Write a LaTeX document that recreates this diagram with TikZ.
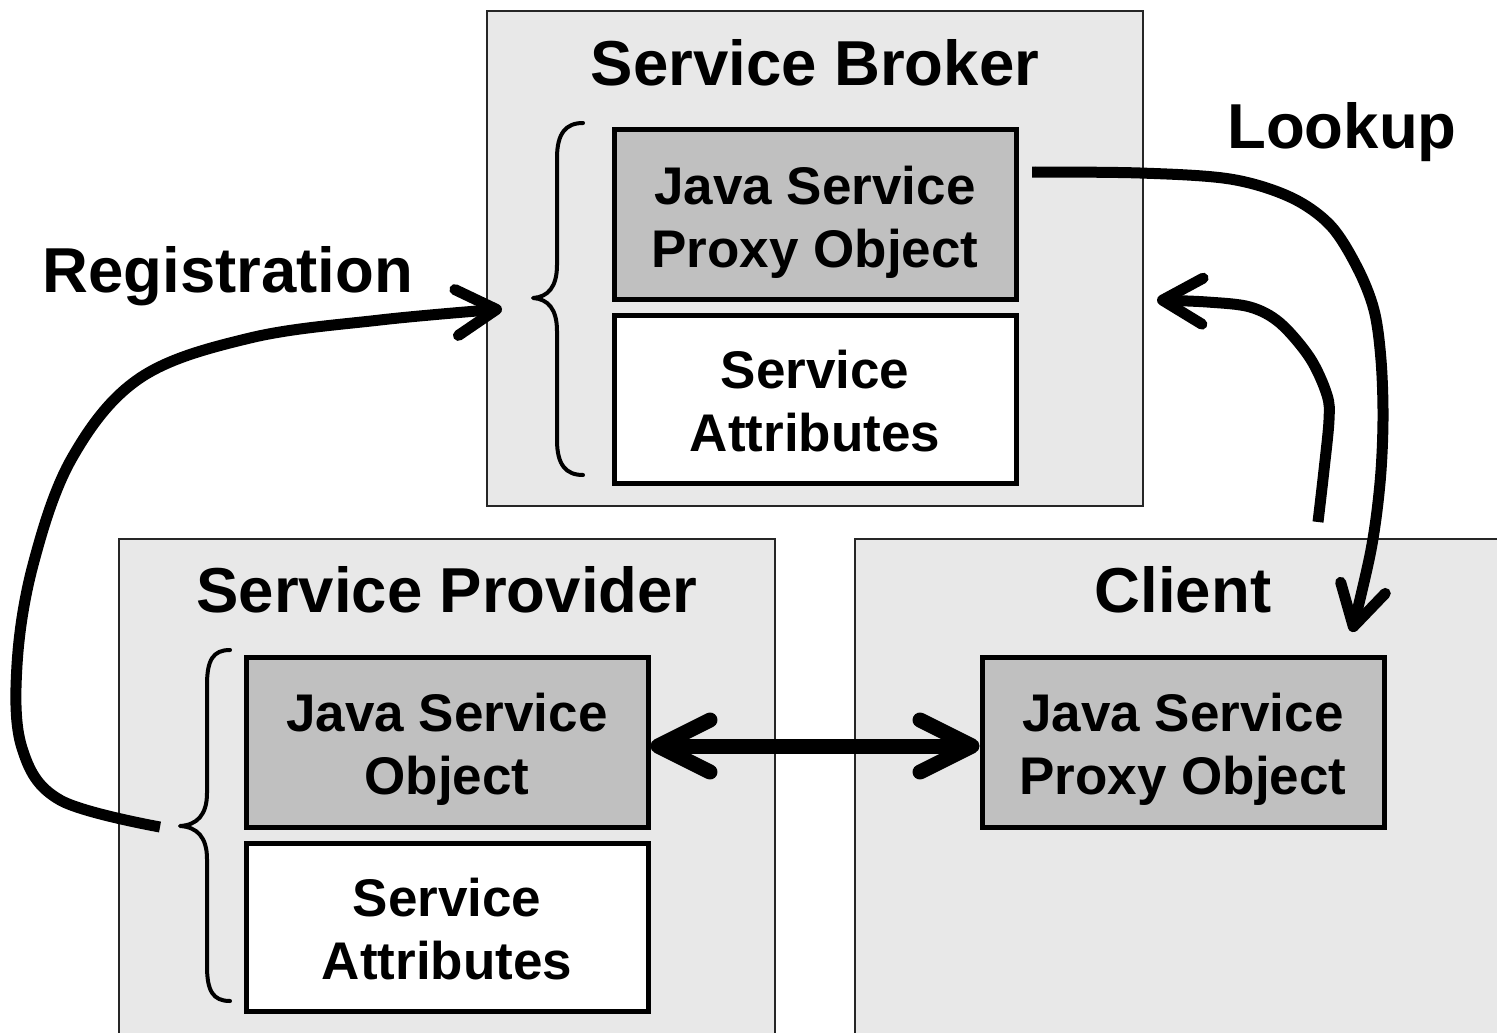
\documentclass[tikz,border=0pt]{standalone}
\usepackage{fontspec}
\setmainfont{Liberation Sans}
\usetikzlibrary{arrows.meta}
\definecolor{panel}{HTML}{E8E8E8}
\definecolor{objgray}{HTML}{C0C0C0}
\definecolor{panelline}{HTML}{262626}
\begin{document}
\begin{tikzpicture}[x=1pt,y=-1pt,
  panelbox/.style={draw=panelline,line width=2pt,fill=panel,rectangle,inner sep=0pt},
  objbox/.style={draw=black,line width=5pt,rectangle,inner sep=0pt,minimum width=402pt,
    font=\fontsize{53}{63}\selectfont\bfseries,align=center,text height=105pt,text depth=0pt},
  grayobj/.style={objbox,fill=objgray,minimum height=170pt},
  whiteobj/.style={objbox,fill=white,minimum height=168pt},
  title/.style={font=\fontsize{63.5}{70}\selectfont\bfseries,anchor=base,inner sep=0pt},
  bracestyle/.style={line width=4pt,line cap=round,line join=round},
  flow/.style={line width=11pt,-{Straight Barb[length=40pt,width=46pt,round]}},
  dbl/.style={line width=15pt,{Straight Barb[length=52pt,width=52pt,round]}-{Straight Barb[length=52pt,width=52pt,round]}}
  ]
\useasboundingbox (0,0) rectangle (1497,1033);

% panels
\node[panelbox,minimum width=656pt,minimum height=495pt] (broker) at (815,258.5) {};
\node[panelbox,minimum width=656pt,minimum height=506pt] (provider) at (447,792) {};
\node[panelbox,minimum width=655pt,minimum height=506pt] (client) at (1182.5,792) {};

% titles
\node[title] (tbroker) at (815,85) {Service Broker};
\node[title] (tprovider) at (447,612) {Service Provider};
\node[title] (tclient) at (1183,612) {Client};
\node[title] (tlookup) at (1342,148) {Lookup};
\node[title] (treg) at (228,292) {Registration};

% objects
\node[grayobj] (bgray) at (815,214.5) {Java Service\\Proxy Object};
\node[whiteobj] (bwhite) at (815,399) {Service\\Attributes};
\node[grayobj] (pgray) at (447,742) {Java Service\\Object};
\node[whiteobj] (pwhite) at (447,927) {Service\\Attributes};
\node[grayobj] (cgray) at (1183,742) {Java Service\\Proxy Object};

% braces
\draw[bracestyle] (583,123) .. controls (566,123) and (557,133) .. (557,158) -- (557,265)
  .. controls (557,287) and (548,297) .. (533,298)
  .. controls (548,299) and (557,309) .. (557,331) -- (557,440)
  .. controls (557,465) and (566,475) .. (583,475);
\draw[bracestyle] (230,650) .. controls (213,650) and (207,660) .. (207,685) -- (207,793)
  .. controls (207,815) and (197,825) .. (180,826)
  .. controls (197,827) and (207,837) .. (207,859) -- (207,966)
  .. controls (207,991) and (213,1001) .. (230,1001);

% connector ends
\coordinate (regstart) at (160,827);
\coordinate (regend) at (502,309);
\coordinate (lkstart) at (1032,172);
\coordinate (lkend) at (1352,632);
\coordinate (retstart) at (1318,522);
\coordinate (retend) at (1157,300);

% registration
\draw[flow] plot[smooth,tension=0.6] coordinates {(regstart) (60,800) (22,748) (17,665) (33,565) (72,458) (140,378) (250,338) (380,320) (regend)};
% lookup
\draw[flow] plot[smooth,tension=0.55] coordinates {(lkstart) (1140,173) (1230,179) (1290,197) (1330,225) (1357,267) (1374,310) (1381,360) (1383,420) (1380,483) (1371,550) (lkend)};
% return
\draw[flow] plot[smooth,tension=0.55] coordinates {(retstart) (1324,470) (1329,420) (1327,395) (1310,358) (1280,323) (1250,307) (1207,302) (retend)};
% double arrow
\draw[dbl] ([yshift=-4pt]pgray.east) -- ([yshift=-4pt]cgray.west);
\end{tikzpicture}
\end{document}
